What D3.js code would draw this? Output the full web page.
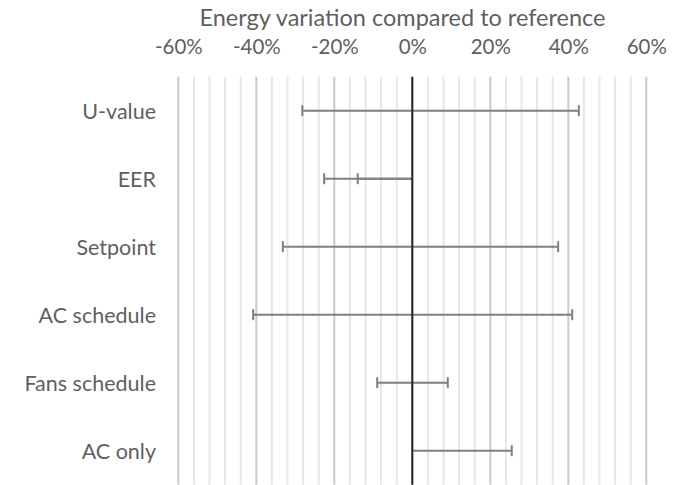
<!DOCTYPE html>
<html>
<head>
<meta charset="utf-8">
<script src="https://cdn.jsdelivr.net/npm/d3@7"></script>
<style>
  body { margin: 0; background: #fff; }
  text { font-family: Lato, "Open Sans", sans-serif; fill: #5f5f5f; }
</style>
</head>
<body>
<div id="chart"></div>
<script>
var categories = ['U-value', 'EER', 'Setpoint', 'AC schedule', 'Fans schedule', 'AC only'];
var lowValues = [-28.2, -22.6, -33.2, -40.8, -9.0, 0];
var highValues = [42.7, -14.0, 37.4, 41.0, 9.1, 25.5];
var majorTicks = [-60, -40, -20, 0, 20, 40, 60];

var width = 683, height = 485;
var svg = d3.select('#chart')
    .append('svg')
    .attr('width', width)
    .attr('height', height);

var x = d3.scaleLinear().domain([-60, 60]).range([178.3, 646.3]);
var y = d3.scaleBand().domain(categories).range([76.7, 484.7]);

// gridlines, every 4% with darker lines at the labelled ticks
var grid = d3.range(-60, 61, 4);
svg.append('g').selectAll('line')
    .data(grid)
    .enter()
    .append('line')
    .attr('x1', function (d) { return x(d); })
    .attr('x2', function (d) { return x(d); })
    .attr('y1', y.range()[0])
    .attr('y2', y.range()[1])
    .attr('stroke', function (d) { return d % 20 === 0 ? '#c9c9c9' : '#e6e6e6'; })
    .attr('stroke-width', 2);

// tick labels at top
var axis = d3.axisTop(x)
    .tickValues(majorTicks)
    .tickSize(0)
    .tickPadding(0)
    .tickFormat(function (d) { return d + '%'; });
var axisG = svg.append('g')
    .attr('transform', 'translate(0, 53.5)')
    .call(axis);
axisG.select('.domain').remove();
axisG.selectAll('text')
    .attr('font-size', 20.5)
    .attr('fill', '#5f5f5f')
    .style('font-family', 'Lato, sans-serif');

svg.append('text')
    .attr('x', 402.5)
    .attr('y', 25.5)
    .attr('text-anchor', 'middle')
    .attr('font-size', 23.5)
    .text('Energy variation compared to reference');

// category labels
svg.append('g').selectAll('text')
    .data(categories)
    .enter()
    .append('text')
    .attr('x', 156)
    .attr('y', function (d) { return y(d) + y.bandwidth() / 2; })
    .attr('text-anchor', 'end')
    .attr('dominant-baseline', 'central')
    .attr('font-size', 21.5)
    .text(function (d) { return d; });

// error bars: a line from zero to each value with a cap at the end
var ends = [];
categories.forEach(function (c, i) {
  ends.push({ cat: c, v: lowValues[i] });
  ends.push({ cat: c, v: highValues[i] });
});
var bars = svg.append('g');
bars.selectAll('line.bar')
    .data(ends)
    .enter()
    .append('line')
    .classed('bar', true)
    .attr('x1', x(0))
    .attr('x2', function (d) { return x(d.v); })
    .attr('y1', function (d) { return y(d.cat) + y.bandwidth() / 2; })
    .attr('y2', function (d) { return y(d.cat) + y.bandwidth() / 2; })
    .attr('stroke', '#7f7f7f')
    .attr('stroke-width', 2);
bars.selectAll('line.cap')
    .data(ends.filter(function (d) { return d.v !== 0; }))
    .enter()
    .append('line')
    .classed('cap', true)
    .attr('x1', function (d) { return x(d.v); })
    .attr('x2', function (d) { return x(d.v); })
    .attr('y1', function (d) { return y(d.cat) + y.bandwidth() / 2 - 5.5; })
    .attr('y2', function (d) { return y(d.cat) + y.bandwidth() / 2 + 5.5; })
    .attr('stroke', '#7f7f7f')
    .attr('stroke-width', 2);

// zero axis
svg.append('line')
    .attr('x1', x(0))
    .attr('x2', x(0))
    .attr('y1', y.range()[0])
    .attr('y2', y.range()[1])
    .attr('stroke', '#262626')
    .attr('stroke-width', 2);
</script>
</body>
</html>
